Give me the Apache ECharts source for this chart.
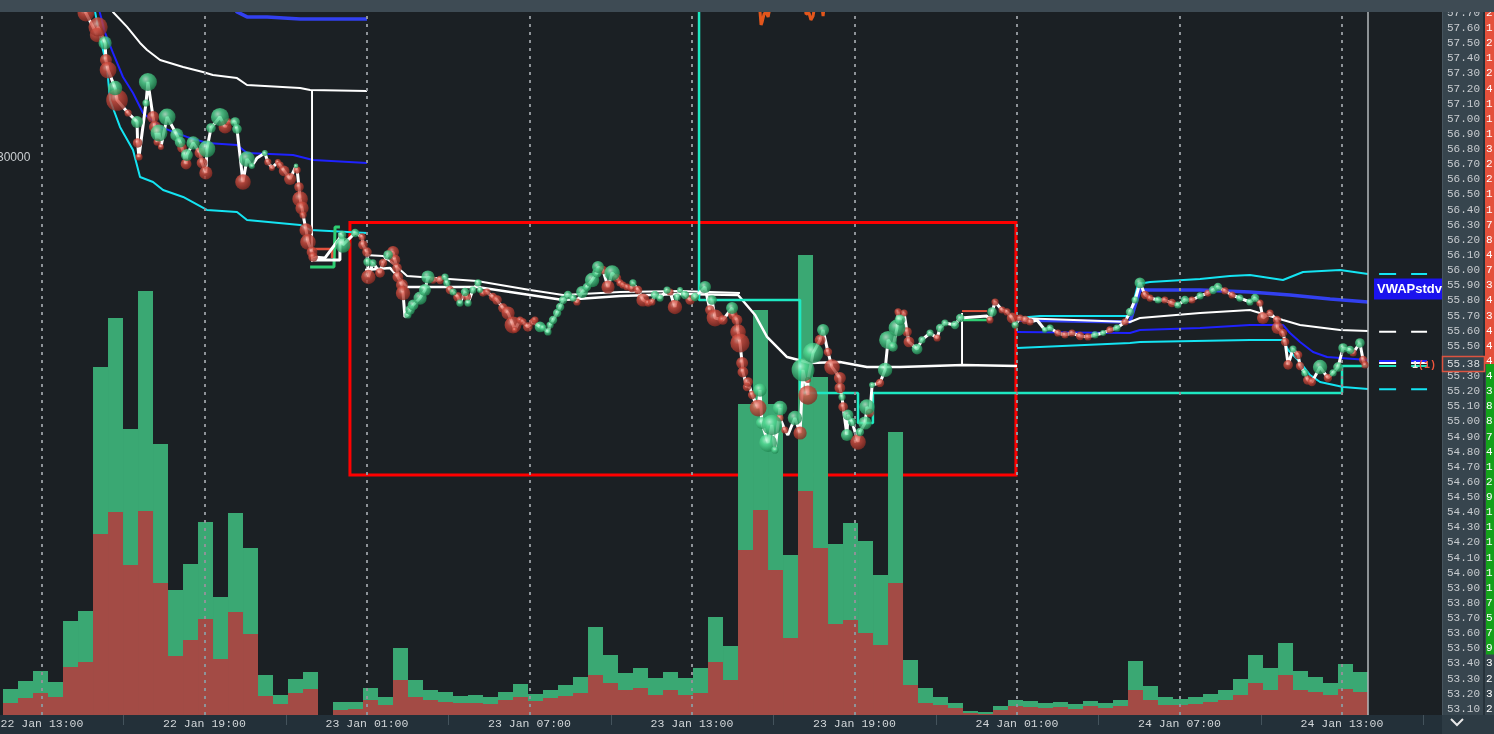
<!DOCTYPE html>
<html><head><meta charset="utf-8">
<script src="https://cdn.jsdelivr.net/npm/echarts@6/dist/echarts.min.js"></script>
<style>html,body{margin:0;padding:0;background:#1b2024;overflow:hidden}#c{width:1494px;height:734px}</style>
</head><body><div id="c"></div>
<script>
// ---------- DATA ----------
// time unit: hours since 22 Jan 00:00 ; price in USD
const xTickHours = [13,19,25,31,37,43,49,55,61];
const xMidHours = [16,22,28,34,40,46,52,58,64];
const barFirstHour = 11.837;           // centre of first volume bin
const barHours = 0.55385;              // bin length
const volSell = [12,17,22,18,48,53,181,203,150,204,132,59,75,96,56,103,81,19,11,22,26,0,5,6,15,10,35,18,15,13,12,12,11,15,18,14,17,19,22,40,32,25,27,20,25,20,22,53,35,165,205,145,77,224,167,91,95,82,70,132,30,12,10,7,2,1,5,9,8,7,8,6,9,7,9,25,15,10,10,11,13,15,20,32,25,40,25,23,20,26,23];
const volBuy  = [14,17,22,15,46,51,167,194,136,220,139,66,76,97,62,99,86,21,9,14,17,0,8,7,12,8,32,17,10,10,7,8,7,8,13,7,8,11,16,48,28,17,20,17,18,17,25,45,34,146,200,166,83,236,171,80,97,92,70,151,25,15,8,5,2,2,4,6,6,5,5,5,5,5,6,29,14,8,6,7,8,10,16,28,22,32,19,15,12,25,20];
const volUnit = 53.86; // contracts per volume unit

// trades: [hour, price, size, side(1 buy,-1 sell,0 none)]
const tradesDay1 = [[14.55,57.78,0,0],[14.62,57.700,14,-1],[15.03,57.555,12,-1],[15.07,57.608,16,-1],[15.33,57.502,11,1],[15.36,57.389,10,-1],[15.44,57.323,14,-1],[15.70,57.204,12,1],[15.77,57.125,18,-1],[16.18,57.039,6,-1],[16.51,56.980,10,1],[16.53,56.841,8,-1],[16.58,56.748,6,-1],[16.84,57.105,6,1],[16.91,57.244,15,1],[17.10,57.013,10,-1],[17.17,56.947,10,-1],[17.25,56.847,6,-1],[17.32,56.907,14,1],[17.39,56.814,5,-1],[17.62,57.013,14,1],[17.98,56.894,11,1],[18.10,56.847,9,1],[18.17,56.808,8,-1],[18.32,56.702,9,-1],[18.35,56.762,10,1],[18.58,56.841,11,1],[18.83,56.775,9,-1],[18.91,56.709,9,-1],[19.05,56.643,11,-1],[19.09,56.801,14,1],[19.24,56.940,8,1],[19.57,57.013,15,1],[19.76,56.947,11,-1],[19.87,56.980,6,-1],[20.13,56.980,8,1],[20.20,56.933,8,1],[20.42,56.583,13,-1],[20.57,56.735,13,1],[20.75,56.689,5,1],[20.94,56.742,0,0],[21.23,56.775,5,1],[21.34,56.715,6,-1],[21.49,56.676,5,-1],[21.71,56.715,5,-1],[21.79,56.695,6,-1],[21.94,56.656,9,-1],[22.16,56.603,10,-1],[22.38,56.689,4,1],[22.42,56.662,6,-1],[22.49,56.550,8,-1],[22.53,56.471,13,-1],[22.60,56.411,11,-1],[22.64,56.365,6,-1],[22.75,56.266,11,-1],[22.82,56.187,13,-1],[22.97,56.120,9,-1],[23.01,56.087,8,-1]];
const tradesDay2 = [[23.45,56.081,0,0],[24.08,56.233,7,1],[24.11,56.167,13,1],[24.56,56.246,7,1],[24.82,56.220,6,-1],[24.85,56.167,8,-1],[25.00,56.120,8,-1],[25.02,56.054,7,1],[25.05,55.955,12,-1],[25.22,56.048,6,1],[25.48,55.982,8,-1],[25.59,56.048,7,-1],[25.78,56.101,8,1],[25.96,56.120,10,-1],[26.03,56.068,9,-1],[26.11,56.015,8,-1],[26.14,55.955,9,-1],[26.29,55.902,10,-1],[26.33,55.849,12,-1],[26.40,55.691,0,0],[26.51,55.704,6,1],[26.59,55.737,8,1],[26.70,55.770,9,1],[26.96,55.816,11,1],[27.14,55.869,10,1],[27.25,55.955,11,1],[27.44,55.935,6,-1],[27.70,55.935,7,-1],[27.88,55.955,6,1],[27.95,55.916,6,1],[28.06,55.869,7,-1],[28.18,55.856,6,1],[28.36,55.823,8,-1],[28.43,55.783,6,1],[28.62,55.856,7,1],[28.69,55.823,7,-1],[28.73,55.783,6,1],[28.91,55.869,6,1],[29.10,55.916,6,1],[29.17,55.869,5,1],[29.28,55.849,6,-1],[29.43,55.856,6,-1],[29.65,55.823,7,-1],[29.80,55.803,8,-1],[30.02,55.750,8,-1],[30.21,55.717,11,-1],[30.39,55.638,14,-1],[30.46,55.605,5,-1],[30.65,55.671,6,-1],[30.76,55.658,6,-1],[30.94,55.625,8,-1],[31.13,55.658,6,-1],[31.20,55.671,6,-1],[31.39,55.625,9,1],[31.50,55.618,6,1],[31.68,55.592,6,1],[31.76,55.638,6,1],[31.87,55.671,7,1],[32.02,55.717,7,1],[32.13,55.757,7,1],[32.24,55.803,7,1],[32.42,55.836,7,1],[32.61,55.816,6,1],[32.75,55.790,6,-1],[32.94,55.856,10,1],[33.12,55.889,7,1],[33.31,55.935,12,1],[33.49,55.982,8,1],[33.53,56.021,10,1],[33.71,56.001,7,-1],[33.90,55.889,11,-1],[34.05,55.982,13,1],[34.23,55.949,7,-1],[34.34,55.916,6,-1],[34.45,55.902,6,-1],[34.60,55.889,6,-1],[34.78,55.882,7,-1],[34.82,55.916,6,1],[35.01,55.869,7,-1],[35.19,55.803,11,-1],[35.38,55.783,6,-1],[35.52,55.790,6,-1],[35.63,55.836,7,1],[35.82,55.816,6,1],[36.08,55.869,6,1],[36.19,55.856,6,-1],[36.37,55.757,12,-1],[36.45,55.823,6,1],[36.56,55.869,5,1],[36.74,55.836,7,1],[36.93,55.803,8,-1],[37.11,55.823,7,1],[37.48,55.889,10,1],[37.66,55.737,8,-1],[37.74,55.803,8,1],[37.85,55.684,14,-1],[38.14,55.671,8,-1],[38.48,55.750,10,1],[38.51,55.704,8,-1],[38.66,55.671,9,-1],[38.70,55.592,13,-1],[38.77,55.519,16,-1],[38.85,55.387,10,-1],[38.88,55.327,9,-1],[39.03,55.228,7,-1],[39.07,55.261,8,-1],[39.22,55.175,7,-1],[39.44,55.089,14,-1],[39.51,55.208,11,1],[39.58,54.990,10,1],[39.81,54.858,15,1],[39.95,54.977,17,1],[40.06,54.812,6,1],[40.25,55.089,12,1],[40.25,55.023,6,-1],[40.43,54.944,6,-1],[40.54,54.911,0,0],[40.80,55.023,12,1],[40.99,54.924,11,-1],[41.10,55.341,19,1],[41.28,55.175,16,-1],[41.28,55.274,5,-1],[41.47,55.453,17,1],[41.73,55.539,9,-1],[41.84,55.605,10,1],[42.02,55.459,7,-1],[42.17,55.360,13,-1],[42.46,55.288,10,-1],[42.46,55.222,9,-1],[42.54,55.162,6,1],[42.58,55.096,8,-1],[42.72,54.911,10,1],[42.76,55.043,9,1],[42.91,54.997,7,1],[43.13,54.865,13,-1],[43.20,54.931,7,1],[43.39,54.990,11,1],[43.46,55.096,13,1],[43.57,55.056,7,-1],[43.65,55.241,5,1],[43.94,55.255,7,-1],[44.13,55.341,12,1],[44.24,55.539,15,1],[44.42,55.493,8,1],[44.57,55.618,14,1],[44.61,55.724,6,-1],[44.68,55.671,9,1],[44.83,55.717,6,-1],[44.94,55.592,8,-1],[45.01,55.526,9,-1],[45.31,55.479,9,1],[45.49,55.539,6,1],[45.79,55.585,6,1],[46.05,55.552,6,-1],[46.16,55.618,7,1],[46.34,55.651,6,1],[46.71,55.638,7,1],[46.90,55.684,7,1],[46.97,55.697,0,0],[47.89,55.697,0,0],[48.00,55.671,6,-1],[48.08,55.724,8,1],[48.19,55.790,6,-1],[48.45,55.737,6,-1],[48.63,55.724,6,-1],[48.82,55.684,9,-1],[48.93,55.638,6,1]];
const tradesDay3 = [[49.11,55.684,6,-1],[49.30,55.671,7,-1],[49.48,55.658,6,-1],[49.74,55.671,0,0],[50.03,55.605,5,1],[50.22,55.618,6,1],[50.51,55.585,6,-1],[50.77,55.572,6,-1],[51.03,55.585,6,-1],[51.33,55.565,7,-1],[51.62,55.559,6,-1],[51.88,55.572,6,1],[52.18,55.585,5,1],[52.43,55.605,6,-1],[52.69,55.618,6,1],[52.99,55.658,6,-1],[53.17,55.724,7,1],[53.36,55.803,6,1],[53.54,55.916,9,1],[53.73,55.836,7,-1],[53.91,55.816,6,-1],[54.21,55.803,6,1],[54.46,55.803,6,-1],[54.72,55.783,7,-1],[54.94,55.770,6,1],[55.20,55.803,7,1],[55.46,55.803,6,-1],[55.76,55.830,6,1],[56.05,55.849,6,-1],[56.24,55.869,7,1],[56.42,55.889,7,1],[56.68,55.863,6,-1],[56.94,55.836,6,-1],[57.23,55.816,6,1],[57.60,55.790,6,1],[57.79,55.816,7,1],[57.97,55.783,6,-1],[58.08,55.684,10,-1],[58.34,55.717,6,-1],[58.60,55.671,7,-1],[58.62,55.618,10,-1],[58.82,55.585,7,-1],[58.90,55.526,7,-1],[59.01,55.374,8,-1],[59.19,55.479,6,1],[59.38,55.440,7,-1],[59.45,55.367,7,-1],[59.63,55.321,6,1],[59.74,55.274,8,-1],[59.89,55.261,7,-1],[60.19,55.360,12,1],[60.48,55.288,7,-1],[60.67,55.321,6,1],[60.85,55.360,8,1],[61.04,55.486,8,1],[61.30,55.473,7,1],[61.41,55.453,6,-1],[61.66,55.519,8,1],[61.78,55.407,7,-1],[61.85,55.374,6,-1]];

// VWAP / std-dev bands
const whiteUpDay1 = [[15.51,57.753],[15.62,57.707],[16.14,57.608],[16.62,57.502],[16.88,57.456],[17.36,57.389],[18.21,57.343],[18.94,57.310],[19.31,57.290],[20.20,57.270],[20.57,57.224],[22.53,57.204],[22.90,57.191],[25.00,57.185]];
const blueTopDay1 = [[20.02,57.753],[20.20,57.707],[20.57,57.674],[21.31,57.674],[22.53,57.660],[25.00,57.660]];
const blueMidDay1 = [[15.07,57.753],[15.14,57.700],[15.33,57.568],[15.62,57.436],[15.99,57.277],[16.36,57.171],[16.73,57.039],[17.36,56.947],[18.35,56.881],[19.09,56.841],[20.20,56.828],[20.57,56.775],[22.27,56.762],[23.01,56.729],[25.00,56.709]];
const cyanLoDay1 = [[14.88,57.753],[14.96,57.707],[15.14,57.541],[15.40,57.343],[15.51,57.125],[15.88,56.947],[16.36,56.795],[16.62,56.616],[17.10,56.583],[17.47,56.530],[18.21,56.484],[19.09,56.398],[20.20,56.385],[20.57,56.332],[22.53,56.299],[22.90,56.266],[25.00,56.246]];
const closeMarkDay1 = [[22.97,57.191],[22.97,56.054]];
const boxWhiteDay1 = [[22.97,56.068],[24.00,56.068],[24.00,56.246]];
const boxGreenDay1 = [[22.90,56.021],[23.78,56.021],[23.82,56.286],[24.00,56.286]];
const boxRedDay1 = [[23.01,56.140],[23.71,56.140],[23.71,56.081]];
const whiteADay2 = [[24.93,56.101],[25.59,56.094],[26.03,56.035],[26.48,55.962],[29.06,55.929],[31.02,55.869],[32.24,55.836],[34.34,55.856],[36.56,55.863],[38.77,55.849]];
const whiteBDay2 = [[24.93,56.001],[25.85,56.015],[26.48,55.889],[29.06,55.889],[31.02,55.836],[32.24,55.803],[34.34,55.830],[36.56,55.843],[38.70,55.836],[39.33,55.704],[39.77,55.559],[40.51,55.426],[41.36,55.387],[42.46,55.393],[43.46,55.360],[44.68,55.360],[47.01,55.374],[49.00,55.367]];
const plateauMark = [[46.97,55.717],[46.97,55.367]];
const plateauRed = [[46.97,55.730],[47.89,55.730]];
const plateauGreen = [[46.97,55.671],[47.89,55.671]];
const tealStep = [[37.26,57.80],[37.26,55.803],[40.99,55.803],[40.99,55.189],[43.13,55.189],[43.13,54.990],[43.68,54.990],[43.68,55.189],[61.00,55.189],[61.00,55.367],[61.96,55.367]];
const cyanUpDay3 = [[49.00,55.684],[49.85,55.697],[53.17,55.697],[53.47,55.909],[53.91,55.922],[55.76,55.942],[56.86,55.962],[57.60,55.969],[58.82,55.935],[59.56,55.988],[60.93,56.001],[61.96,55.975]];
const blueUpDay3 = [[49.00,55.671],[53.17,55.658],[53.54,55.869],[55.76,55.869],[57.60,55.856],[59.08,55.836],[60.56,55.810],[61.96,55.790]];
const whiteDay3 = [[49.00,55.684],[53.17,55.658],[53.54,55.684],[55.76,55.717],[57.60,55.737],[58.82,55.671],[59.45,55.638],[60.93,55.605],[61.96,55.598]];
const blueLoDay3 = [[49.00,55.592],[53.17,55.585],[53.54,55.605],[55.76,55.618],[57.60,55.638],[58.82,55.638],[59.08,55.585],[59.45,55.526],[59.93,55.459],[60.45,55.426],[61.96,55.407]];
const cyanLoDay3 = [[49.00,55.486],[53.17,55.519],[53.54,55.526],[57.60,55.539],[58.82,55.539],[59.01,55.473],[59.45,55.393],[59.82,55.307],[60.19,55.261],[61.04,55.228],[61.96,55.215]];
const orangeMarks = [
  [[39.47,57.80],[39.55,57.621],[39.59,57.641],[39.66,57.693],[39.73,57.707],[39.81,57.674],[39.95,57.80]],
  [[41.14,57.80],[41.21,57.693],[41.32,57.700],[41.39,57.654],[41.47,57.680],[41.58,57.80]],
  [[41.76,57.80],[41.84,57.680],[41.91,57.80]]
];
const projFrom = 62.37, projTo = 64.14;
const projLevels = [55.975, 55.594, 55.400, 55.387, 55.367, 55.213];
const zoneBox = [[24.37,56.315],[48.96,54.647]];
const nowHour = 61.96;
const lastPrice = 55.38;
const vwapLabelPrice = 55.876;
const ladderPrices = [57.7,57.6,57.5,57.4,57.3,57.2,57.1,57.0,56.9,56.8,56.7,56.6,56.5,56.4,56.3,56.2,56.1,56.0,55.9,55.8,55.7,55.6,55.5,55.4,55.3,55.2,55.1,55.0,54.9,54.8,54.7,54.6,54.5,54.4,54.3,54.2,54.1,54.0,53.9,53.8,53.7,53.6,53.5,53.4,53.3,53.2,53.1];
const ladderQty = ['2','1','2','1','2','4','1','1','1','3','2','2','1','1','7','8','4','7','3','4','3','4','4','4','4','3','8','8','7','4','1','2','9','1','1','1','1','1','1','7','5','7','9','3','2','3','2'];
const askBottomPrice = 55.38, bidBottomPrice = 53.46;

// ---------- CHART ----------
const H0 = 11.449, H1 = 64.692;
const MONO = "'Liberation Mono','DejaVu Sans Mono',monospace";
const C = {white:'#ffffff', blue:'#1f22ff', blueThick:'#3240f0', cyan:'#14e4f2', teal:'#1ee8c2', red:'#ff0000', orange:'#e2561c'};
const BUBBLE_SCALE = 1.2;
const chart = echarts.init(document.getElementById('c'), null, {renderer:'canvas', width:1494, height:734});

function fmtTime(v){ const d = 22 + Math.floor(v/24 + 1e-9); const hh = Math.round(v - (d-22)*24); return d + ' Jan ' + String(hh).padStart(2,'0') + ':00'; }
function ln(data, color, width, z, extra){ return Object.assign({type:'line', xAxisIndex:0, yAxisIndex:0, data, symbol:'none', silent:true, z:z||3, lineStyle:{color, width}}, extra||{}); }
const sphereBuy = {type:'radial', x:0.38, y:0.34, r:0.72, colorStops:[{offset:0,color:'#c4fadc'},{offset:0.33,color:'#55dc96'},{offset:1,color:'#1b7a48'}]};
const sphereSell = {type:'radial', x:0.38, y:0.34, r:0.72, colorStops:[{offset:0,color:'#f6a79c'},{offset:0.33,color:'#d44f41'},{offset:1,color:'#80271f'}]};

const allTrades = tradesDay1.concat(tradesDay2, tradesDay3);
const barTime = i => barFirstHour + i*barHours;
const projColors = [C.cyan, C.white, C.blue, C.white, C.teal, C.cyan];

const series = [
  {type:'bar', xAxisIndex:1, yAxisIndex:1, barWidth:15, barGap:'-100%', z:1, silent:true, itemStyle:{color:'#3aa873'}, data: volBuy.map((v,i)=>[barTime(i), v + volSell[i]])},
  {type:'bar', xAxisIndex:1, yAxisIndex:1, barWidth:15, barGap:'-100%', z:1, silent:true, itemStyle:{color:'#a34b45'}, data: volSell.map((v,i)=>[barTime(i), v])},
  ln(whiteUpDay1, C.white, 2),
  ln(blueTopDay1, C.blueThick, 3.5),
  ln(blueMidDay1, C.blue, 2),
  ln(cyanLoDay1, C.cyan, 2),
  ln(closeMarkDay1, C.white, 2),
  ln(boxGreenDay1, '#2fcf73', 3),
  ln(boxRedDay1, '#e0503c', 2.5),
  ln(boxWhiteDay1, C.white, 3),
  ln(whiteADay2, C.white, 2),
  ln(whiteBDay2, C.white, 2.5),
  ln(plateauMark, C.white, 2),
  ln(plateauRed, '#e0503c', 2),
  ln(plateauGreen, '#2fcf73', 2.5),
  ln(tealStep, C.teal, 2.5),
  ln(cyanUpDay3, C.cyan, 2),
  ln(blueUpDay3, C.blueThick, 3.5),
  ln(whiteDay3, C.white, 2),
  ln(blueLoDay3, C.blue, 2),
  ln(cyanLoDay3, C.cyan, 2),
  ...orangeMarks.map(m => ln(m, C.orange, 3)),
  ln(allTrades.map(t=>[t[0],t[1]]), C.white, 3, 4),
  {type:'scatter', xAxisIndex:0, yAxisIndex:0, z:5, silent:true, symbolSize:v=>v[2]*BUBBLE_SCALE, itemStyle:{color:sphereSell}, data: allTrades.filter(t=>t[3]===-1).map(t=>[t[0],t[1],t[2]])},
  {type:'scatter', xAxisIndex:0, yAxisIndex:0, z:5, silent:true, symbolSize:v=>v[2]*BUBBLE_SCALE, itemStyle:{color:sphereBuy}, data: allTrades.filter(t=>t[3]===1).map(t=>[t[0],t[1],t[2]])},
  ...projLevels.map((p,i)=> ln([[projFrom,p],[projTo,p]], projColors[i], 2, 20, {lineStyle:{color:projColors[i], width:2, type:[17,15]}})),
  {type:'line', xAxisIndex:0, yAxisIndex:0, data:[], z:6, silent:true,
   markArea:{silent:true, itemStyle:{color:'rgba(0,0,0,0)', borderColor:C.red, borderWidth:3}, data:[[{xAxis:zoneBox[0][0], yAxis:zoneBox[0][1]},{xAxis:zoneBox[1][0], yAxis:zoneBox[1][1]}]]}},
  {type:'line', xAxisIndex:1, yAxisIndex:1, data:[], z:22, silent:true,
   markLine:{silent:true, symbol:['none','none'], label:{show:false}, lineStyle:{color:'#8e9398', width:2, type:[3,5]}, data: xTickHours.map(h=>({xAxis:h}))}},
  {type:'line', xAxisIndex:0, yAxisIndex:0, data:[], z:45, silent:true,
   markLine:{silent:true, symbol:['none','none'], label:{show:false}, lineStyle:{color:'#b4b8bb', width:1.5, type:'solid'}, data:[{xAxis:nowHour}]}}
];

chart.setOption({
  animation:false,
  backgroundColor:'#1b2024',
  grid:[
    {left:0, right:52, top:-2.13, bottom:9.9, outerBoundsMode:'none', containLabel:false},
    {left:0, right:52, top:12, bottom:19, outerBoundsMode:'none', containLabel:false}
  ],
  xAxis:[
    {type:'value', gridIndex:0, min:H0, max:H1, show:false},
    {type:'value', gridIndex:1, min:H0, max:H1, z:50,
     axisLine:{show:false}, splitLine:{show:false},
     axisTick:{show:true, customValues:xMidHours, length:10, lineStyle:{color:'#44535c', width:1}},
     axisLabel:{customValues:xTickHours, formatter:fmtTime, color:'#d2d6d9', fontFamily:MONO, fontSize:11.5, margin:3}}
  ],
  yAxis:[
    {type:'value', gridIndex:0, position:'right', min:53.0, max:57.8, interval:0.1, z:50,
     axisLine:{show:false}, axisTick:{show:false}, splitLine:{show:false},
     axisLabel:{formatter:v=>v.toFixed(2), color:'#c8ccd0', fontFamily:MONO, fontSize:11, margin:5, showMinLabel:false, showMaxLabel:false, hideOverlap:false}},
    {type:'value', gridIndex:1, position:'left', offset:6, min:0, max:703, interval:557, z:50,
     axisLine:{show:false}, axisTick:{show:false}, splitLine:{show:false},
     axisLabel:{inside:true, margin:3, showMaxLabel:false, formatter:v=> v>0 ? String(Math.round(v*volUnit/1000)*1000) : '', color:'#c9cdd0', fontFamily:"'Liberation Sans',Arial,sans-serif", fontSize:12}}
  ],
  series
});

// ---------- UI chrome (panels, ladder, labels) ----------
const yOf = p => chart.convertToPixel({yAxisIndex:0}, p);
const yLast = yOf(lastPrice);
const g = [
  {type:'rect', z:100, shape:{x:0,y:0,width:1494,height:12}, style:{fill:'#3e4b54'}},
  {type:'rect', z:40, shape:{x:0,y:715,width:1494,height:19}, style:{fill:'#233039'}},
  {type:'rect', z:40, shape:{x:1442,y:12,width:52,height:703}, style:{fill:'#37454e'}},
  {type:'rect', z:41, shape:{x:1442,y:715,width:52,height:19}, style:{fill:'#2d3b44'}},
  {type:'line', z:41, shape:{x1:1442.5,y1:12,x2:1442.5,y2:715}, style:{stroke:'#46545d', lineWidth:1}},
  {type:'line', z:41, shape:{x1:1484,y1:12,x2:1484,y2:715}, style:{stroke:'#26323a', lineWidth:2}},
  {type:'rect', z:41, shape:{x:1485,y:12,width:9,height:yOf(askBottomPrice)-12}, style:{fill:'#e4503b'}},
  {type:'rect', z:41, shape:{x:1486,y:yLast,width:8,height:yOf(bidBottomPrice)-yLast}, style:{fill:'#13a11a'}},
  {type:'polyline', z:56, shape:{points:[[1451,719],[1457,725],[1463,719]]}, style:{stroke:'#e8e8e8', lineWidth:2, fill:null}},
  {type:'rect', z:30, shape:{x:1374,y:yOf(vwapLabelPrice)-10.5,width:70,height:21}, style:{fill:'#1b13ee'}},
  {type:'text', z:31, x:1377, y:yOf(vwapLabelPrice), style:{text:'VWAPstdv', fill:'#ffffff', font:"bold 13px 'Liberation Sans',Arial,sans-serif", verticalAlign:'middle'}},
  {type:'text', z:31, x:1412, y:yLast+1, style:{text:'{a|1}{b|(1)}', rich:{a:{fill:'#f0e8e0', font:"bold 10px "+MONO}, b:{fill:'#f0553c', font:"bold 10px "+MONO}}, verticalAlign:'middle'}},
  {type:'rect', z:55, shape:{x:1442.5,y:yLast-7.5,width:42,height:15}, style:{fill:'#37454e', stroke:'#dd5440', lineWidth:1.5}},
  {type:'text', z:56, x:1447, y:yLast, style:{text:lastPrice.toFixed(2), fill:'#d8dcdf', font:"11px "+MONO, verticalAlign:'middle'}}
];
ladderPrices.forEach((p,i)=>{
  g.push({type:'text', z:42, x:1486, y:yOf(p), style:{text:ladderQty[i], fill:'#ffffff', font:"11px "+MONO, verticalAlign:'middle'}});
});
chart.setOption({graphic:{elements:g}});
</script>
</body></html>
